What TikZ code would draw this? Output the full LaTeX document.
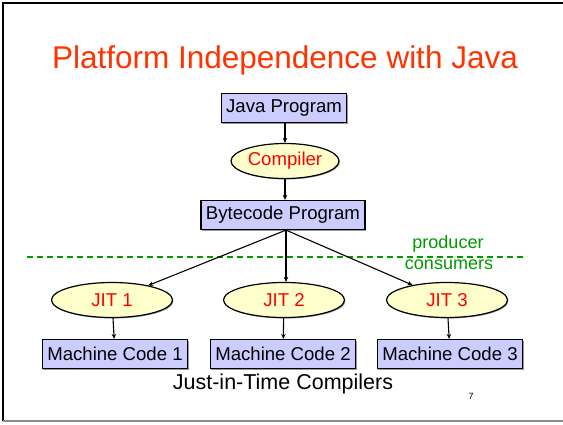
\documentclass[tikz,border=0pt]{standalone}
\usepackage{fontspec}
\setmainfont{Liberation Sans}
\usetikzlibrary{shapes.geometric,shadows,arrows.meta}
\definecolor{titlered}{HTML}{FF3300}
\definecolor{boxfill}{HTML}{CCCCFF}
\definecolor{ellfill}{HTML}{FFFFCC}
\definecolor{sepgreen}{HTML}{009900}
\tikzset{
  boxnode/.style={draw=black, line width=1.2pt, fill=boxfill, rectangle, minimum height=29pt, inner xsep=5pt, font=\fontsize{18.6}{20}\selectfont,
    drop shadow={shadow xshift=1pt, shadow yshift=-1pt, fill=black!40, opacity=1}},
  ellnode/.style={draw=black, line width=1.2pt, fill=ellfill, ellipse, inner sep=0pt, text=red, font=\fontsize{18.6}{20}\selectfont,
    drop shadow={shadow xshift=1pt, shadow yshift=-1pt, fill=black!40, opacity=1}},
  conn/.style={draw=black, line width=1.1pt, -{Stealth[length=5pt,width=4.5pt]}},
}
\begin{document}
\begin{tikzpicture}[x=1pt,y=-1pt]
\useasboundingbox (0,0) rectangle (563,424);
% frame
\draw[black, line width=2pt] (3,421) -- (3,3) -- (563,3);
\draw[black!45, line width=1.5pt] (3,421) -- (563,421);
% title
\node[text=titlered, font=\fontsize{31.5}{34}\selectfont] (title) at (285,60) {Platform Independence with Java};
% nodes
\node[boxnode] (java) at (284,108) {Java Program};
\node[ellnode, minimum width=108pt, minimum height=35pt] (comp) at (285,161) {Compiler};
\node[boxnode] (byte) at (283,215) {Bytecode Program};
\node[ellnode, minimum width=121pt, minimum height=35pt] (jit1) at (112,300) {JIT 1};
\node[ellnode, minimum width=121pt, minimum height=35pt] (jit2) at (284,300) {JIT 2};
\node[ellnode, minimum width=121pt, minimum height=35pt] (jit3) at (447,300) {JIT 3};
\node[boxnode] (mc1) at (115,354) {Machine Code 1};
\node[boxnode] (mc2) at (283,354) {Machine Code 2};
\node[boxnode] (mc3) at (450,354) {Machine Code 3};
% separator
\coordinate (sepL) at (27,257);
\coordinate (sepR) at (527,257);
\draw[sepgreen, line width=1.2pt, dash pattern=on 6pt off 4pt] (sepL) -- (sepR);
\node[text=sepgreen, font=\fontsize{18}{20}\selectfont] (prod) at (448,244) {producer};
\node[text=sepgreen, font=\fontsize{18}{20}\selectfont] (cons) at (449,265) {consumers};
% connectors
\draw[conn] (java.south -| comp) -- (comp.north);
\draw[conn] (comp.south) -- (comp.south |- byte.north);
\coordinate (bs) at ([xshift=3pt]byte.south);
\draw[conn] (bs) -- (jit1);
\draw[conn] (bs) -- (bs |- jit2.north);
\draw[conn] (bs) -- (jit3);
\draw[conn] (jit1) -- (mc1);
\draw[conn] (jit2) -- (mc2);
\draw[conn] (jit3) -- (mc3);
% captions
\node[font=\fontsize{21.5}{24}\selectfont] (cap) at (283,384) {Just-in-Time Compilers};
\node[font=\fontsize{9}{10}\selectfont] (pg) at (471,396) {7};
\end{tikzpicture}
\end{document}
